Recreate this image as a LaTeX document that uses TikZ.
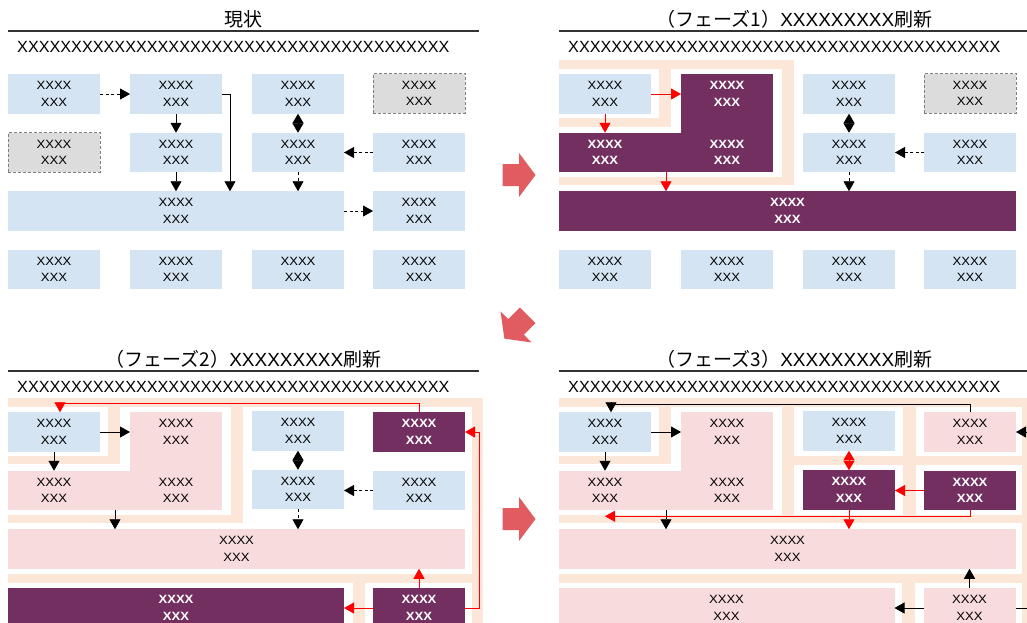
\documentclass[tikz,border=0pt]{standalone}
\usepackage{fontspec}
\setmainfont{Liberation Sans}
\newfontfamily\jpfont{Noto Sans CJK JP}
\newfontfamily\bxfont{Liberation Sans}[FakeStretch=1.09]
\usetikzlibrary{arrows.meta}
\definecolor{lblue}{HTML}{D4E4F2}
\definecolor{pinkc}{HTML}{F8DBDD}
\definecolor{purp}{HTML}{722F60}
\definecolor{peach}{HTML}{FBE6D8}
\definecolor{grayc}{HTML}{DCDCDC}
\definecolor{grayb}{HTML}{7F7F7F}
\definecolor{phase}{HTML}{E05C60}
\definecolor{rulec}{HTML}{333333}
\newcommand{\hdrx}{XXXXXXXXXXXXXXXXXXXXXXXXXXXXXXXXXXXXXXXX}
\newcommand{\boxtxt}{XXXX\\XXX}
\newcommand{\phasettl}[1]{（フェーズ#1）{\rmfamily XXXXXXXXX}刷新}
\newcommand{\blockarrow}[2]{\fill[blk,shift={#1},rotate=#2] (-17,-11) -- (-0.5,-11) -- (-0.5,-22) -- (16,0) -- (-0.5,22) -- (-0.5,11) -- (-17,11) -- cycle;}
\tikzset{
  cell/.style={minimum width=92pt,minimum height=39.5pt,inner sep=0pt,outer sep=0pt,align=center,font=\bxfont\fontsize{12}{16.5}\selectfont},
  lb/.style={cell,fill=lblue},
  pk/.style={cell,fill=pinkc},
  pu/.style={cell,fill=purp,text=white,font=\bxfont\bfseries\fontsize{12}{16.5}\selectfont},
  wt/.style={cell,text=white,font=\bxfont\bfseries\fontsize{12}{16.5}\selectfont},
  gy/.style={cell,fill=grayc,draw=grayb,dash pattern=on 3pt off 2pt,line width=0.9pt},
  band/.style={fill=peach},
  ttl/.style={font=\jpfont\fontsize{19}{22}\selectfont,inner sep=0pt},
  hdr/.style={anchor=west,inner sep=0pt,font=\fontsize{16.2}{19}\selectfont},
  rulel/.style={draw=rulec,line width=2pt},
  con/.style={line width=0.8pt,-{Triangle[length=10pt,width=11pt]}},
  dbl/.style={line width=0.8pt,{Triangle[length=9.5pt,width=11pt]}-{Triangle[length=9.5pt,width=11pt]}},
  dsh/.style={dash pattern=on 3pt off 2.5pt},
  blk/.style={fill=phase},
}
\begin{document}
\begin{tikzpicture}[x=1pt,y=-1pt]
\useasboundingbox (0,0) rectangle (1027,622);
\fill[white] (0,0) rectangle (1027,622);
\clip (0,0) rectangle (1027,622);

% ---------------- Panel A : current state ----------------
\begin{scope}
\node[ttl] (a-t) at (243.5,19.5) {現状};
\draw[rulel] (8,31) -- (479,31);
\node[hdr] (a-h) at (17,47) {\hdrx};
\node[lb] (a-11) at (54,94) {\boxtxt};
\node[lb] (a-12) at (176,94) {\boxtxt};
\node[lb] (a-13) at (298,94) {\boxtxt};
\node[gy] (a-14) at (419,93.5) {\boxtxt};
\node[gy] (a-21) at (54,152.5) {\boxtxt};
\node[lb] (a-22) at (176,152.5) {\boxtxt};
\node[lb] (a-23) at (298,152.5) {\boxtxt};
\node[lb] (a-24) at (419,152.5) {\boxtxt};
\node[lb,minimum width=336pt] (a-3w) at (176,211) {\boxtxt};
\node[lb] (a-34) at (419,211) {\boxtxt};
\node[lb] (a-41) at (54,269.5) {\boxtxt};
\node[lb] (a-42) at (176,269.5) {\boxtxt};
\node[lb] (a-43) at (298,269.5) {\boxtxt};
\node[lb] (a-44) at (419,269.5) {\boxtxt};
\draw[con,dsh] (a-11.east) -- (a-12.west);
\draw[con] (a-12.south) -- (a-22.north);
\draw[con] (a-22.south) -- (a-3w.north -| a-22.south);
\draw[con] (a-12.east) -| ([xshift=8pt]a-12.east |- a-3w.north);
\draw[dbl] (a-13.south) -- (a-23.north);
\draw[con,dsh] (a-23.south) -- (a-3w.north -| a-23.south);
\draw[con,dsh] (a-24.west) -- (a-23.east);
\draw[con,dsh] (a-3w.east) -- (a-34.west);
\end{scope}

% ---------------- Panel B : phase 1 ----------------
\begin{scope}[shift={(551,0)}]
\fill[band] (8,60) rectangle (243,69);
\fill[band] (231,60) rectangle (243,185);
\fill[band] (8,177) rectangle (243,185);
\fill[band] (108,69) rectangle (120,127);
\fill[band] (8,118) rectangle (120,127);
\node[ttl] (b-t) at (243.5,19.5) {\phasettl{1}};
\draw[rulel] (8,31) -- (479,31);
\node[hdr] (b-h) at (17,47) {\hdrx};
\node[lb] (b-11) at (54,94) {\boxtxt};
\node[pu,minimum height=59pt] (b-Lt) at (176,103.5) {};
\node[pu,minimum width=214pt] (b-Lb) at (115,152.5) {};
\node[wt] (b-12) at (176,94) {\boxtxt};
\node[wt] (b-21) at (54,152.5) {\boxtxt};
\node[wt] (b-22) at (176,152.5) {\boxtxt};
\node[lb] (b-13) at (298,94) {\boxtxt};
\node[gy] (b-14) at (419,93.5) {\boxtxt};
\node[lb] (b-23) at (298,152.5) {\boxtxt};
\node[lb] (b-24) at (419,152.5) {\boxtxt};
\node[pu,minimum width=457pt] (b-3w) at (236.5,211) {\boxtxt};
\node[lb] (b-41) at (54,269.5) {\boxtxt};
\node[lb] (b-42) at (176,269.5) {\boxtxt};
\node[lb] (b-43) at (298,269.5) {\boxtxt};
\node[lb] (b-44) at (419,269.5) {\boxtxt};
\draw[con,red] (b-11.east) -- (b-12.west);
\draw[con,red] (b-11.south) -- (b-21.north);
\draw[con,red] (b-Lb.south) -- (b-3w.north -| b-Lb.south);
\draw[dbl] (b-13.south) -- (b-23.north);
\draw[con,dsh] (b-24.west) -- (b-23.east);
\draw[con,dsh] (b-23.south) -- (b-3w.north -| b-23.south);
\end{scope}

% ---------------- Panel C : phase 2 ----------------
\begin{scope}[shift={(0,338)}]
\fill[band] (8,60) rectangle (483,69);
\fill[band] (472,60) rectangle (483,300);
\fill[band] (231,69) rectangle (243,185);
\fill[band] (8,177) rectangle (243,185);
\fill[band] (108,69) rectangle (120,126);
\fill[band] (8,118) rectangle (120,126);
\fill[band] (8,236) rectangle (472,245);
\fill[band] (353,245) rectangle (365,300);
\node[ttl] (c-t) at (243.5,21) {\phasettl{2}};
\draw[rulel] (8,33) -- (479,33);
\node[hdr] (c-h) at (17,49) {\hdrx};
\node[lb] (c-11) at (54,94) {\boxtxt};
\node[pk,minimum height=59pt] (c-Lt) at (176,103.5) {};
\node[pk,minimum width=214pt] (c-Lb) at (115,152.5) {};
\node[cell] (c-12) at (176,94) {\boxtxt};
\node[cell] (c-21) at (54,152.5) {\boxtxt};
\node[cell] (c-22) at (176,152.5) {\boxtxt};
\node[lb] (c-13) at (298,93) {\boxtxt};
\node[pu] (c-14) at (419,94) {\boxtxt};
\node[lb] (c-23) at (298,151.5) {\boxtxt};
\node[lb] (c-24) at (419,152.5) {\boxtxt};
\node[pk,minimum width=457pt] (c-3w) at (236.5,211) {\boxtxt};
\node[pu,minimum width=336pt] (c-4w) at (176,270) {\boxtxt};
\node[pu] (c-44) at (419,270) {\boxtxt};
\draw[con,red] (c-14.north) -- ++(0,-9) -| ([xshift=6pt]c-11.north);
\draw[con] (c-11.east) -- (c-12.west);
\draw[con] (c-11.south) -- (c-21.north);
\draw[con] (c-Lb.south) -- (c-3w.north -| c-Lb.south);
\draw[dbl] (c-13.south) -- (c-23.north);
\draw[con,dsh] (c-24.west) -- (c-23.east |- c-24.west);
\draw[con,dsh] (c-23.south) -- (c-3w.north -| c-23.south);
\draw[con,red] (c-44.north) -- (c-3w.south -| c-44.north);
\draw[con,red] (c-44.west) -- (c-4w.east);
\draw[con,red] (c-44.east) -- ++(14,0) |- (c-14.east);
\end{scope}

% ---------------- Panel D : phase 3 ----------------
\begin{scope}[shift={(551,338)}]
\fill[band] (8,60) rectangle (490,69);
\fill[band] (471,60) rectangle (483,300);
\fill[band] (231,69) rectangle (243,177);
\fill[band] (8,177) rectangle (490,185);
\fill[band] (108,69) rectangle (120,126);
\fill[band] (8,118) rectangle (120,126);
\fill[band] (352,69) rectangle (365,177);
\fill[band] (243,118) rectangle (490,127);
\fill[band] (8,236) rectangle (490,245);
\fill[band] (351,245) rectangle (364,300);
\node[ttl] (d-t) at (243.5,21) {\phasettl{3}};
\draw[rulel] (8,33) -- (479,33);
\node[hdr] (d-h) at (17,49) {\hdrx};
\node[lb] (d-11) at (54,94) {\boxtxt};
\node[pk,minimum height=59pt] (d-Lt) at (176,103.5) {};
\node[pk,minimum width=214pt] (d-Lb) at (115,152.5) {};
\node[cell] (d-12) at (176,94) {\boxtxt};
\node[cell] (d-21) at (54,152.5) {\boxtxt};
\node[cell] (d-22) at (176,152.5) {\boxtxt};
\node[lb] (d-13) at (298,93) {\boxtxt};
\node[pk] (d-14) at (419,94) {\boxtxt};
\node[pu] (d-23) at (298,152) {\boxtxt};
\node[pu] (d-24) at (419,152.5) {\boxtxt};
\node[pk,minimum width=457pt] (d-3w) at (236.5,211) {\boxtxt};
\node[pk,minimum width=336pt] (d-4w) at (175.5,270) {\boxtxt};
\node[pk] (d-44) at (418.5,270) {\boxtxt};
\draw[con] (d-14.north) -- ++(0,-8) -| ([xshift=6pt]d-11.north);
\draw[con] (d-11.east) -- (d-12.west);
\draw[con] (d-11.south) -- (d-21.north);
\draw[con,red] (d-24.south) |- ([yshift=-6pt]d-21.south);
\draw[con] (d-Lb.south) -- (d-3w.north -| d-Lb.south);
\draw[con] (d-44.east) -- ++(14,0) |- (d-14.east);
\draw[dbl,red] (d-13.south) -- (d-23.north);
\draw[con,red] (d-24.west) -- (d-23.east |- d-24.west);
\draw[con,red] (d-23.south) -- (d-3w.north -| d-23.south);
\draw[con] (d-44.west) -- (d-4w.east);
\draw[con] (d-44.north) -- (d-3w.south -| d-44.north);
\end{scope}

% ---------------- phase arrows ----------------
\blockarrow{(519.5,175)}{0}
\blockarrow{(515.7,327.3)}{225}
\blockarrow{(519.5,519)}{0}
\end{tikzpicture}
\end{document}
